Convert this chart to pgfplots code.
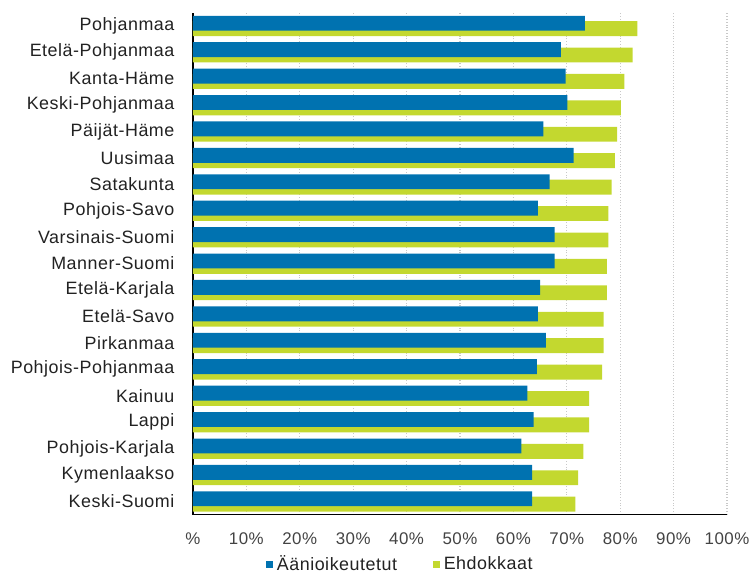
\documentclass[border=0pt]{standalone}
\usepackage{fontspec}
\setmainfont{Liberation Sans}
\newfontfamily\labfont[LetterSpace=3]{Liberation Sans}
\usepackage{pgfplots}
\pgfplotsset{compat=1.18}
\definecolor{barBlue}{HTML}{0072B0}
\definecolor{barGreen}{HTML}{C3D82F}
\definecolor{gridGrey}{HTML}{C8C8C8}
\definecolor{textDark}{HTML}{222222}

\begin{document}
\begin{tikzpicture}
\begin{axis}[
  at={(0,0)}, anchor=south west,
  scale only axis,
  width=269pt, height=252.8pt,
  xbar,
  bar width=7.5pt,
  xmin=0, xmax=100,
  ymin=-0.5, ymax=18.5,
  xtick={0,10,...,100},
  xticklabels={\%,10\%,20\%,30\%,40\%,50\%,60\%,70\%,80\%,90\%,100\%},
  ytick={0,...,18},
  yticklabels={Keski-Suomi,Kymenlaakso,Pohjois-Karjala,Lappi,Kainuu,Pohjois-Pohjanmaa,Pirkanmaa,Etelä-Savo,Etelä-Karjala,Manner-Suomi,Varsinais-Suomi,Pohjois-Savo,Satakunta,Uusimaa,Päijät-Häme,Keski-Pohjanmaa,Kanta-Häme,Etelä-Pohjanmaa,Pohjanmaa},
  major tick length=0pt,
  axis x line*=bottom, axis y line*=left,
  axis line style={black,line width=0.8pt,-},
  xmajorgrids,
  grid style={gridGrey,densely dotted,line width=0.6pt},
  yticklabel style={font=\labfont\fontsize{9}{10}\selectfont,color=textDark,xshift=-5.8pt},
  xticklabel style={font=\labfont\fontsize{8.5}{10}\selectfont,color=textDark!85,yshift=-5.5pt},
  legend columns=2,
  legend style={at={(0.39,-0.099)},anchor=center,draw=none,fill=none,
    font=\labfont\fontsize{9}{10}\selectfont,text=textDark,
    /tikz/every even column/.append style={column sep=16pt}},
  legend image code/.code={\fill[#1,draw=none] (0pt,-1.75pt) rectangle (3.5pt,1.75pt);},
]
\addlegendimage{fill=barBlue,draw=none}
\addlegendimage{fill=barGreen,draw=none}
% Ehdokkaat behind
\addplot[fill=barGreen,draw=none,bar shift=-1.4pt,forget plot] coordinates {
  (71.6,0) (72.1,1) (73.1,2) (74.2,3) (74.2,4) (76.6,5) (76.9,6) (76.9,7)
  (77.5,8) (77.5,9) (77.8,10) (77.8,11) (78.4,12) (79.0,13) (79.4,14)
  (80.1,15) (80.8,16) (82.3,17) (83.2,18)
};
% Äänioikeutetut in front
\addplot[fill=barBlue,draw=none,bar shift=1.3pt,forget plot] coordinates {
  (63.5,0) (63.5,1) (61.5,2) (63.8,3) (62.6,4) (64.4,5) (66.1,6) (64.6,7)
  (65.0,8) (67.7,9) (67.7,10) (64.6,11) (66.8,12) (71.3,13) (65.6,14)
  (70.1,15) (69.8,16) (68.9,17) (73.4,18)
};
\legend{Äänioikeutetut,Ehdokkaat}
\end{axis}
\useasboundingbox (-97.15pt,-28.85pt) rectangle (280.85pt,259.15pt);
\end{tikzpicture}
\end{document}
